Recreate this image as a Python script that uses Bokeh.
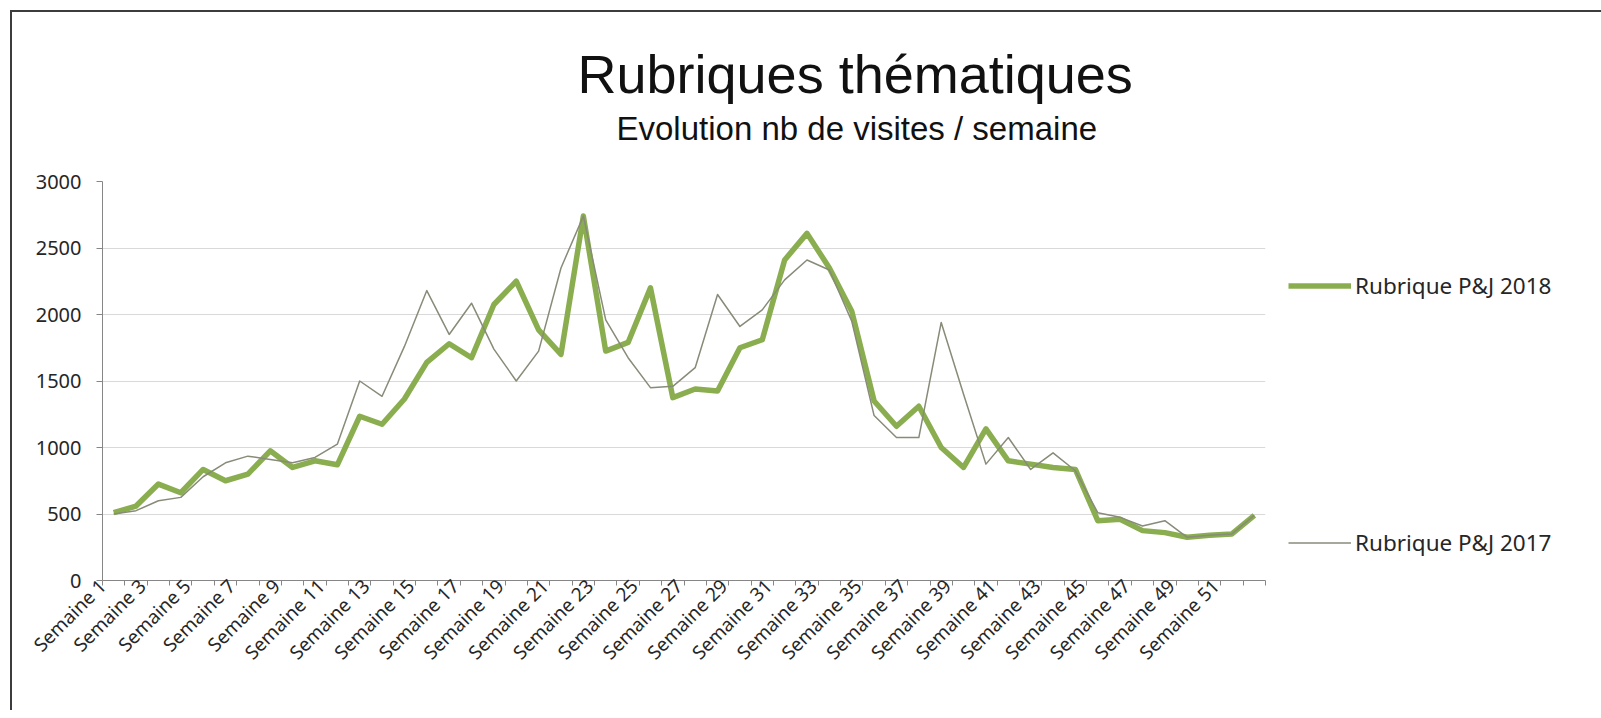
import math
from bokeh.plotting import figure
from bokeh.models import Range1d, FixedTicker, Legend, LegendItem, Title, LinearAxis
from bokeh.embed import file_html
from bokeh.resources import INLINE

# ---------------- data ----------------
weeks = list(range(1, 53))
week_labels = [f"Semaine {w}" for w in weeks]

visits_2018 = [510, 560, 725, 660, 835, 750, 800, 975, 850, 900,
               870, 1235, 1175, 1365, 1640, 1780, 1675, 2075, 2250, 1885,
               1700, 2740, 1725, 1790, 2200, 1375, 1440, 1425, 1750, 1810,
               2410, 2610, 2350, 2025, 1350, 1160, 1310, 1000, 850, 1140,
               900, 875, 850, 835, 450, 460, 375, 360, 325, 340,
               350, 490]

visits_2017 = [500, 525, 600, 625, 780, 885, 935, 910, 885, 925,
               1025, 1500, 1385, 1760, 2180, 1850, 2085, 1740, 1500, 1725,
               2350, 2740, 1960, 1675, 1450, 1460, 1600, 2150, 1910, 2035,
               2260, 2410, 2335, 1950, 1240, 1075, 1075, 1940, 1400, 875,
               1075, 835, 960, 825, 510, 475, 410, 450, 325, 340,
               350, 490]

y_ticks = [0, 500, 1000, 1500, 2000, 2500, 3000]
series_names = ["Rubrique P&J 2018", "Rubrique P&J 2017"]
title_text = "Rubriques thématiques"
subtitle_text = "Evolution nb de visites / semaine"

# ---------------- figure ----------------
p = figure(frame_width=1163, frame_height=399,
           min_border_left=90, min_border_right=330,
           min_border_top=169, min_border_bottom=130,
           x_range=Range1d(0.5, 52.5), y_range=Range1d(0, 3000),
           output_backend="svg", toolbar_location=None, title=None)
p.outline_line_color = None
p.background_fill_color = "white"
p.border_fill_color = "white"
p.styles = {"margin-left": "10px", "margin-top": "10px",
            "border-left": "2px solid #3c3c3c", "border-top": "2px solid #3c3c3c"}

# titles (first added is closest to the frame); a blank spacer sits under the subtitle
spacer = Title(text=" ", text_font_size="1px", standoff=28)
p.add_layout(spacer, "above")
sub = Title(text=subtitle_text, text_font="Liberation Sans", text_font_size="33px",
            text_font_style="normal", text_color="#111111", align="left",
            offset=514, standoff=8)
p.add_layout(sub, "above")
ttl = Title(text=title_text, text_font="Liberation Sans", text_font_size="54px",
            text_font_style="normal", text_color="#111111", align="left",
            offset=475, standoff=0)
p.add_layout(ttl, "above")

# lines
r18 = p.line(weeks, visits_2018, line_width=5.5, line_color="#8AAE4F", line_join="round")
r17 = p.line(weeks, visits_2017, line_width=1.5, line_color="#878B78", line_join="round")

# x axis 1: axis line + category boundary ticks
xa = p.xaxis[0]
xa.ticker = FixedTicker(ticks=[], minor_ticks=[w - 0.5 for w in weeks] + [weeks[-1] + 0.5])
xa.major_tick_line_color = None
xa.major_tick_out = 0
xa.major_tick_in = 0
xa.minor_tick_line_color = "#868686"
xa.minor_tick_in = 0
xa.minor_tick_out = 5
xa.axis_line_color = "#868686"
xa.major_label_standoff = 0

# x axis 2: rotated week labels, shifted left like Excel's rotated labels
label_shift = 0.72
label_weeks = weeks[::2]
label_ticks = [w - min(label_shift, w - 0.5) for w in label_weeks]
xl = LinearAxis(ticker=FixedTicker(ticks=label_ticks, minor_ticks=[]),
                major_label_overrides={t: week_labels[w - 1] for t, w in zip(label_ticks, label_weeks)},
                axis_line_color=None, major_tick_line_color=None, minor_tick_line_color=None,
                major_tick_out=0, major_tick_in=0, minor_tick_out=0, minor_tick_in=0,
                major_label_orientation=math.pi / 4, major_label_standoff=-3,
                major_label_text_font="Noto Sans", major_label_text_font_size="19px",
                major_label_text_color="#262626")
p.add_layout(xl, "below")

ya = p.yaxis[0]
ya.ticker = FixedTicker(ticks=y_ticks)
ya.minor_tick_line_color = None
ya.major_tick_line_color = "#868686"
ya.major_tick_in = 0
ya.major_tick_out = 6
ya.axis_line_color = "#868686"
ya.major_label_standoff = 15
ya.major_label_text_font = "Noto Sans"
ya.major_label_text_font_size = "20px"
ya.major_label_text_color = "#262626"

p.xgrid.visible = False
p.ygrid.ticker = FixedTicker(ticks=y_ticks)
p.ygrid.grid_line_color = "#D9D9D9"
p.ygrid.grid_line_width = 1

# legend (in the right side panel)
legend = Legend(items=[LegendItem(label=series_names[0], renderers=[r18]),
                       LegendItem(label=series_names[1], renderers=[r17])],
                location=(23, 22), orientation="vertical",
                glyph_width=63, glyph_height=31, label_height=31,
                label_standoff=4, spacing=226, padding=10, margin=0,
                border_line_color=None, background_fill_alpha=0,
                label_text_font="Noto Sans", label_text_font_size="22.5px",
                label_text_color="#262626")
p.add_layout(legend, "right")

open("out.html", "w").write(file_html(p, INLINE))
